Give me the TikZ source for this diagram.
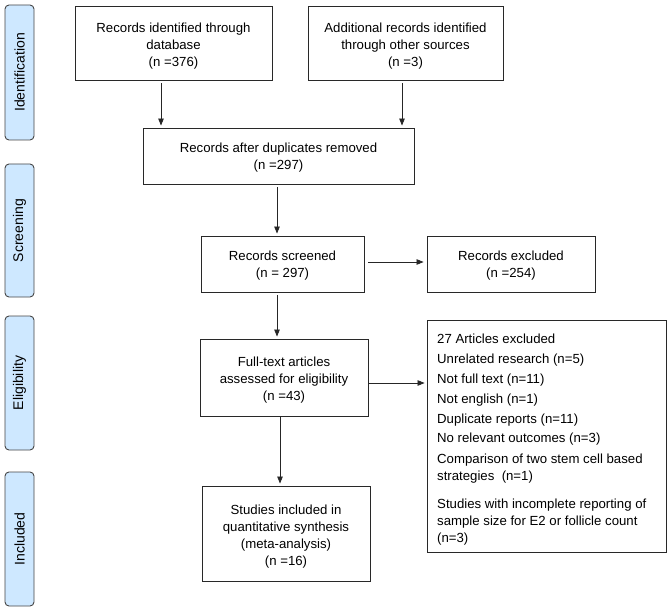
\documentclass[tikz,border=0pt]{standalone}
\usepackage{fontspec}
\setmainfont{Liberation Sans}
\usetikzlibrary{arrows.meta,positioning,calc}
\definecolor{barfill}{RGB}{206,232,255}
\definecolor{barline}{RGB}{70,70,70}
\definecolor{boxline}{RGB}{40,40,40}
\tikzset{
  flowbox/.style={draw=boxline, line width=0.9pt, fill=white, align=center,
    font=\fontsize{13.2}{17}\selectfont, inner sep=0pt},
  boxtext/.style={align=center, inner sep=0pt, font=\fontsize{13.2}{17}\selectfont},
  phasebar/.style={draw=barline, line width=0.9pt, fill=barfill, rounded corners=4pt,
    minimum width=29pt, inner sep=0pt},
  phasetext/.style={rotate=90, font=\fontsize{14}{17}\selectfont},
  arr/.style={draw=black!85, line width=0.8pt, -{Triangle[length=7pt,width=5.5pt]},
    shorten <=3pt, shorten >=2pt}
}
\begin{document}
\begin{tikzpicture}[x=1pt,y=-1pt]
\useasboundingbox[fill=white] (0,0) rectangle (671,612);
% phase bars
\node[phasebar, minimum height=135pt] (p1) at (19.5,72.5) {};
\node[phasetext] (t1) at (p1.center) {Identification};
\node[phasebar, minimum height=133pt] (p2) at (19.5,230.5) {};
\node[phasetext] (t2) at (p2.center) {Screening};
\node[phasebar, minimum height=134pt] (p3) at (19.5,383) {};
\node[phasetext] (t3) at (p3.center) {Eligibility};
\node[phasebar, minimum height=134pt] (p4) at (19.5,539) {};
\node[phasetext] (t4) at (p4.center) {Included};
% boxes
\node[flowbox, minimum width=197pt, minimum height=74pt] (b1) at (173.5,43) {};
\node[boxtext] (b1t) at (173.5,46)
  {Records identified through\\database\\(n =376)};
\node[flowbox, minimum width=195pt, minimum height=74pt] (b2) at (405.5,43) {};
\node[boxtext] (b2t) at (405.5,46)
  {Additional records identified\\through other sources\\(n =3)};
\node[flowbox, minimum width=271pt, minimum height=56pt] (b3) at (278.5,156) {};
\node[boxtext] (b3t) at (278.5,158)
  {Records after duplicates removed\\(n =297)};
\node[flowbox, minimum width=163pt, minimum height=56pt] (b4) at (282.5,264) {};
\node[boxtext] (b4t) at (282.5,266)
  {Records screened\\(n = 297)};
\node[flowbox, minimum width=168pt, minimum height=56pt] (b5) at (511,264) {};
\node[boxtext] (b5t) at (511,266)
  {Records excluded\\(n =254)};
\node[flowbox, minimum width=168pt, minimum height=77pt] (b6) at (284,377.5) {};
\node[boxtext] (b6t) at (284,380)
  {Full-text articles\\assessed for eligibility\\(n =43)};
\node[flowbox, minimum width=239pt, minimum height=232pt] (b7) at (546.5,436) {};
\node[anchor=north west, align=left, inner sep=0pt,
  font=\fontsize{13.2}{17}\selectfont] (b7t) at (437,334)
  {27 Articles excluded\\[2.5pt]
   Unrelated research (n=5)\\[3pt]
   Not full text (n=11)\\[3pt]
   Not english (n=1)\\[3.5pt]
   Duplicate reports (n=11)\\[1.5pt]
   No relevant outcomes (n=3)\\[4pt]
   Comparison of two stem cell based\\
   strategies~~(n=1)\\[11pt]
   Studies with incomplete reporting of\\
   sample size for E2 or follicle count\\
   (n=3)};
\node[flowbox, minimum width=168pt, minimum height=95pt] (b8) at (286,533.5) {};
\node[boxtext] (b8t) at (286,536.5)
  {Studies included in\\quantitative synthesis\\(meta-analysis)\\(n =16)};
% connectors
\draw[arr] ([xshift=-12.5pt]b1.south) -- ([xshift=-12.5pt]b1.south |- b3.north);
\draw[arr] ([xshift=-3.5pt]b2.south) -- ([xshift=-3.5pt]b2.south |- b3.north);
\draw[arr] ([xshift=-1.5pt]b3.south) -- ([xshift=-1.5pt]b3.south |- b4.north);
\draw[arr, shorten <=4pt, shorten >=3pt] ([yshift=2pt]b4.east) -- ([yshift=2pt]b4.east -| b5.west);
\draw[arr] ([xshift=-5.5pt]b4.south) -- ([xshift=-5.5pt]b4.south |- b6.north);
\draw[arr, shorten <=1pt, shorten >=2pt] ([yshift=-5.5pt]b6.east) -- ([yshift=-5.5pt]b6.east -| b7.west);
\draw[arr, shorten <=0pt] ([xshift=-4pt]b6.south) -- ([xshift=-4pt]b6.south |- b8.north);
\end{tikzpicture}
\end{document}
